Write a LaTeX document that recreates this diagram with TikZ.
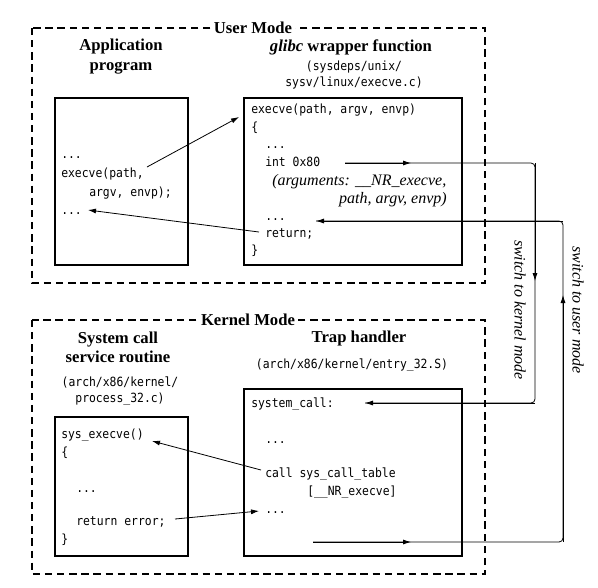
\documentclass[tikz,border=0pt]{standalone}
\usepackage{fontspec}
\setmainfont{Liberation Serif}
\setmonofont[FakeStretch=0.9]{DejaVu Sans Mono}
\usetikzlibrary{arrows.meta}

\begin{document}
\begin{tikzpicture}[x=0.75pt,y=-0.75pt,
  modebox/.style={draw, line width=0.9pt, dash pattern=on 5.5pt off 3.6pt},
  codebox/.style={draw, line width=1pt},
  ttitle/.style={font=\fontsize{12.5}{14.5}\selectfont\bfseries, align=center, inner sep=0pt},
  modelabel/.style={font=\fontsize{12.5}{14}\selectfont\bfseries, fill=white, inner xsep=2pt, inner ysep=1pt},
  tcode/.style={font=\fontsize{9.5}{10}\selectfont\ttfamily, anchor=base west, inner sep=0pt},
  tsrc/.style={font=\fontsize{9.5}{12}\selectfont\ttfamily, align=center, inner sep=0pt},
  tnote/.style={font=\fontsize{12}{14}\selectfont\itshape, inner sep=0pt},
  link/.style={line width=0.6pt},
  tip/.style={-{Latex[length=6pt,width=3.8pt]}, line width=0.6pt}
]
\useasboundingbox (0,0) rectangle (598,587);

% ---------- mode frames ----------
\draw[modebox] (32,28) rectangle (485,283);
\node[modelabel] (usermode) at (253,28) {User Mode};
\draw[modebox] (32,320) rectangle (485,574);
\node[modelabel] (kernelmode) at (248,320) {Kernel Mode};

% ---------- user mode: application ----------
\node[ttitle] (apptitle) at (121,56.5) {Application\\program};
\draw[codebox] (55,98) rectangle (188,265);
\node[tcode] (appdots1) at (61,158) {...};
\node[tcode] (appcall)  at (61,177) {execve(path,};
\node[tcode] (appargs)  at (89,196) {argv, envp);};
\node[tcode] (appdots2) at (61,214) {...};

% ---------- user mode: glibc wrapper ----------
\node[ttitle] (glibctitle) at (351,47) {\textit{glibc} wrapper function};
\node[tsrc] (glibcsrc) at (354,75) {(sysdeps/unix/\\sysv/linux/execve.c)};
\draw[codebox] (244,98) rectangle (462,265);
\node[tcode] (wrhead)  at (251,113) {execve(path, argv, envp)};
\node[tcode] (wropen)  at (251,131) {\{};
\node[tcode] (wrdots1) at (265,148) {...};
\node[tcode] (wrint)   at (265,166) {int 0x80};
\node[tnote, anchor=base west] (wrargs1) at (272,185) {(arguments: \_\_NR\_execve,};
\node[tnote, anchor=base east] (wrargs2) at (447,203) {path, argv, envp)};
\node[tcode] (wrdots2) at (265,220) {...};
\node[tcode] (wrret)   at (265,237) {return;};
\node[tcode] (wrclose) at (251,254) {\}};

% ---------- kernel mode: service routine ----------
\node[ttitle] (svctitle) at (118,347.5) {System call\\service routine};
\node[tsrc] (svcsrc) at (120,391) {(arch/x86/kernel/\\process\_32.c)};
\draw[codebox] (55,417) rectangle (188,556);
\node[tcode] (svchead)  at (61,438) {sys\_execve()};
\node[tcode] (svcopen)  at (61,456) {\{};
\node[tcode] (svcdots)  at (76,492) {...};
\node[tcode] (svcret)   at (76,525) {return error;};
\node[tcode] (svcclose) at (61,543) {\}};

% ---------- kernel mode: trap handler ----------
\node[ttitle] (traptitle) at (359,338) {Trap handler};
\node[tsrc] (trapsrc) at (352,365) {(arch/x86/kernel/entry\_32.S)};
\draw[codebox] (244,389) rectangle (462,556);
\node[tcode] (trapentry) at (251,407) {system\_call:};
\node[tcode] (trapdots1) at (265,443) {...};
\node[tcode] (trapcall)  at (265,477) {call sys\_call\_table};
\node[tcode] (trapidx)   at (307,495) {[\_\_NR\_execve]};
\node[tcode] (trapdots2) at (265,513) {...};

% ---------- connector end points ----------
\coordinate (callout)   at (147,167);
\coordinate (wrapin)    at (239,117);
\coordinate (retout)    at (259,232);
\coordinate (appback)   at (88,210);
\coordinate (intout)    at (345,163);
\coordinate (intmid)    at (411,163);
\coordinate (kdowntop)  at (535,163);
\coordinate (kdownmid)  at (535,281);
\coordinate (kdownbot)  at (535,403);
\coordinate (entryin)   at (365,403);
\coordinate (exitout)   at (313,542);
\coordinate (exitmid)   at (411,542);
\coordinate (uupbot)    at (563,542);
\coordinate (uupmid)    at (563,295);
\coordinate (uuptop)    at (563,221);
\coordinate (wrapback)  at (316,221);
\coordinate (dispout)   at (261,470);
\coordinate (svcin)     at (152,441);
\coordinate (errout)    at (175,519);
\coordinate (trapback)  at (259,511);

% ---------- calls within a mode ----------
\draw[tip] (callout) -- (wrapin);
\draw[tip] (retout) -- (appback);
\draw[tip] (dispout) -- (svcin);
\draw[tip] (errout) -- (trapback);

% ---------- switch to kernel mode ----------
\draw[link, rounded corners=3pt] (intout) -- (kdowntop) -- (kdownbot) -- (entryin);
\draw[tip] (intout) -- (intmid);
\draw[tip] (kdowntop) -- (kdownmid);
\draw[tip] (kdownbot) -- (entryin);
\node[tnote, rotate=-90] (tokernel) at (520,310) {switch to kernel mode};

% ---------- switch to user mode ----------
\draw[link, rounded corners=3pt] (exitout) -- (uupbot) -- (uuptop) -- (wrapback);
\draw[tip] (exitout) -- (exitmid);
\draw[tip] (uupbot) -- (uupmid);
\draw[tip] (uuptop) -- (wrapback);
\node[tnote, rotate=-90] (touser) at (578,310) {switch to user mode};

\end{tikzpicture}
\end{document}
